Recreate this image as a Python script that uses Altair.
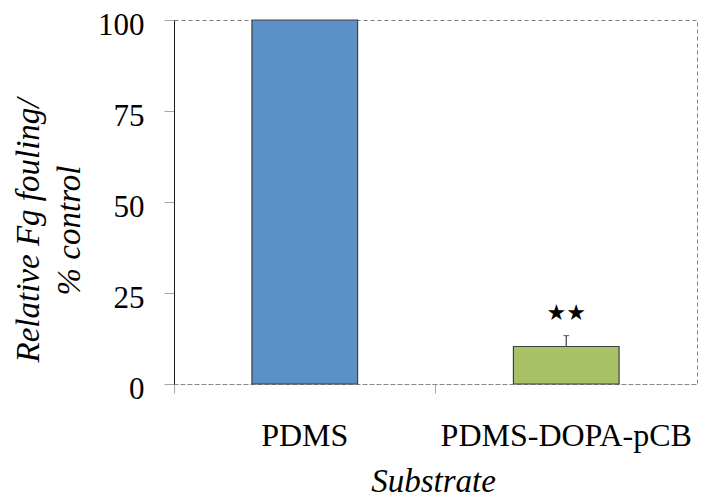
import altair as alt
import pandas as pd

categories = ["PDMS", "PDMS-DOPA-pCB"]
values = [100, 10.3]
errors = [0, 3.0]
marks = ["", "★★"]
colors = ["#5B91C6", "#A9C268"]
y_ticks = [0, 25, 50, 75, 100]

df = pd.DataFrame({
    "Substrate": categories,
    "value": values,
    "upper": [v + e for v, e in zip(values, errors)],
    "mark": marks,
    "star_y": [v + e + 6.2 for v, e in zip(values, errors)],
})
err_df = df[df["upper"] > df["value"]]
star_df = df[df["mark"] != ""]

serif = "'Liberation Serif', 'Times New Roman', Times, serif"

x_enc = alt.X(
    "Substrate:N",
    sort=categories,
    scale=alt.Scale(paddingInner=0, paddingOuter=0),
    axis=alt.Axis(
        title="Substrate",
        titleFont=serif,
        titleFontSize=33,
        titleFontStyle="italic",
        titleFontWeight="normal",
        titleColor="black",
        titleBaseline="alphabetic",
        titleAnchor="start",
        titleAlign="center",
        titleX=259,
        titleY=107,
        labelFont=serif,
        labelFontSize=32,
        labelColor="black",
        labelAngle=0,
        labelBaseline="alphabetic",
        labelPadding=52,
        labelLimit=500,
        tickSize=9,
        tickColor="#a6a6a6",
        bandPosition=0,
        domainColor="#8c8c8c",
        domainDash=[4, 3],
        grid=False,
    ),
)

y_scale = alt.Scale(domain=[0, 100], nice=False)

bars = alt.Chart(df).mark_bar(
    width={"band": 0.404}, stroke="#404040", strokeWidth=1.2
).encode(
    x=x_enc,
    y=alt.Y(
        "value:Q",
        scale=y_scale,
        axis=alt.Axis(
            values=y_ticks,
            title=["Relative Fg fouling/", "% control"],
            titleFont=serif,
            titleFontSize=33,
            titleFontStyle="italic",
            titleFontWeight="normal",
            titleColor="black",
            titleAngle=270,
            titleAlign="center",
            titleBaseline="alphabetic",
            titleLineHeight=41,
            titleX=-136,
            titleY=210,
            labelFont=serif,
            labelFontSize=31,
            labelColor="black",
            labelPadding=20,
            labelOffset=5,
            tickSize=10,
            tickColor="#a6a6a6",
            domainColor="#1a1a1a",
            grid=False,
        ),
    ),
    color=alt.Color("Substrate:N", scale=alt.Scale(domain=categories, range=colors), legend=None),
)

err = alt.Chart(err_df).mark_rule(color="#404040", strokeWidth=1.2).encode(
    x=alt.X("Substrate:N", sort=categories),
    y=alt.Y("value:Q", scale=y_scale),
    y2="upper:Q",
)

cap = alt.Chart(err_df).mark_tick(color="#404040", size=6, thickness=1.2).encode(
    x=alt.X("Substrate:N", sort=categories),
    y=alt.Y("upper:Q", scale=y_scale),
)

stars = alt.Chart(star_df).mark_text(
    font="DejaVu Sans", fontSize=22, baseline="middle", color="black"
).encode(
    x=alt.X("Substrate:N", sort=categories),
    y=alt.Y("star_y:Q", scale=y_scale),
    text="mark:N",
)

chart = alt.layer(bars, err, cap, stars).properties(
    width=523,
    height=364,
    autosize=alt.AutoSizeParams(type="none"),
    padding={"left": 166, "top": 12, "right": 1, "bottom": 113},
    background="white",
).configure_view(
    stroke="#7f7f7f", strokeDash=[4, 3], strokeWidth=1
)

chart.save("out.html", embed_options={"renderer": "svg", "actions": False})
